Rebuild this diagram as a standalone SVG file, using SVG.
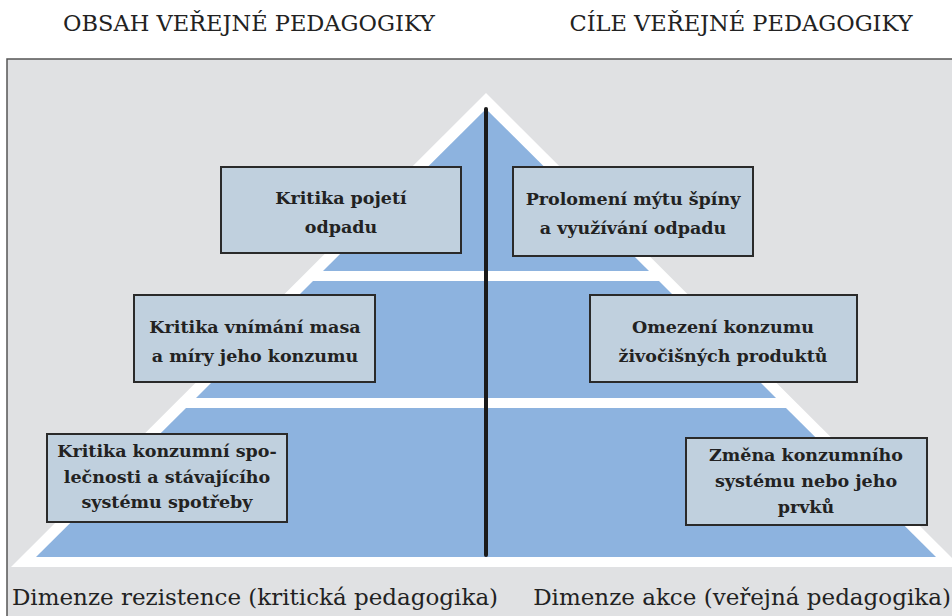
<svg xmlns="http://www.w3.org/2000/svg" width="952" height="616" viewBox="0 0 952 616">
<style>
.hd{font-family:"DejaVu Serif","Liberation Serif",serif;font-size:22.5px;fill:#222;text-anchor:middle}
.ft{font-family:"DejaVu Serif","Liberation Serif",serif;font-size:23px;fill:#222;text-anchor:middle}
.box rect{fill:#c0d0de;stroke:#2a2a2a;stroke-width:2}
.box text{font-family:"DejaVu Serif","Liberation Serif",serif;font-size:17.5px;font-weight:bold;fill:#222;text-anchor:middle}
.tier{fill:#8db3df}
</style>
<rect x="0" y="0" width="952" height="616" fill="#ffffff"/>
<rect x="7" y="59" width="950" height="570" fill="#e0e1e3" stroke="#555" stroke-width="1.5"/>
<text class="hd" x="249" y="31">OBSAH VEŘEJNÉ PEDAGOGIKY</text>
<text class="hd" x="741" y="31">CÍLE VEŘEJNÉ PEDAGOGIKY</text>
<g id="pyramid">
<polygon points="486,93 961,567 11,567" fill="#ffffff"/>
<polygon class="tier" points="486,109 649,271 323,271"/>
<polygon class="tier" points="313,281 659,281 776,398 196,398"/>
<polygon class="tier" points="186,408 786,408 936,557 36,557"/>
</g>
<g id="connectors">
<line x1="486" y1="109" x2="486" y2="555" stroke="#1a1a1a" stroke-width="4" stroke-linecap="round"/>
</g>
<g id="n1" class="box"><rect x="221" y="167" width="240" height="86"/><text x="341" y="204">Kritika pojetí</text><text x="341" y="233">odpadu</text></g>
<g id="n2" class="box"><rect x="513" y="167" width="240" height="89"/><text x="633" y="205">Prolomení mýtu špíny</text><text x="633" y="234">a využívání odpadu</text></g>
<g id="n3" class="box"><rect x="134" y="295" width="241" height="87"/><text x="255" y="333">Kritika vnímání masa</text><text x="255" y="362">a míry jeho konzumu</text></g>
<g id="n4" class="box"><rect x="590" y="295" width="267" height="87"/><text x="723" y="333">Omezení konzumu</text><text x="723" y="362">živočišných produktů</text></g>
<g id="n5" class="box"><rect x="47" y="434" width="240" height="88"/><text x="167" y="457">Kritika konzumní spo-</text><text x="167" y="483">lečnosti a stávajícího</text><text x="167" y="508">systému spotřeby</text></g>
<g id="n6" class="box"><rect x="686" y="438" width="241" height="87"/><text x="806" y="461">Změna konzumního</text><text x="806" y="487">systému nebo jeho</text><text x="806" y="513">prvků</text></g>
<text class="ft" x="255" y="605">Dimenze rezistence (kritická pedagogika)</text>
<text class="ft" x="742" y="605">Dimenze akce (veřejná pedagogika)</text>
</svg>
